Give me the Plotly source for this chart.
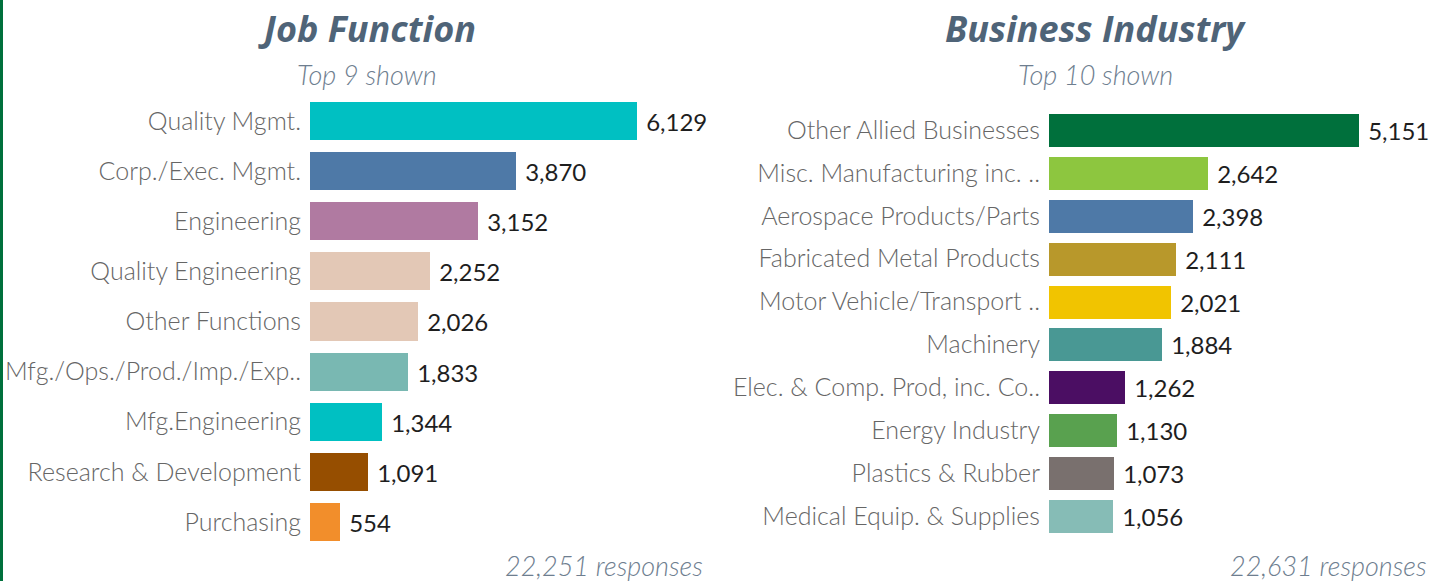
import plotly.graph_objects as go

W, H = 1431, 581

job_labels = ["Quality Mgmt.", "Corp./Exec. Mgmt.", "Engineering", "Quality Engineering",
              "Other Functions", "Mfg./Ops./Prod./Imp./Exp..", "Mfg.Engineering",
              "Research & Development", "Purchasing"]
job_values = [6129, 3870, 3152, 2252, 2026, 1833, 1344, 1091, 554]
job_colors = ["#00C0C2", "#4E79A7", "#B07AA1", "#E3C8B6", "#E3C8B6", "#79B8B2",
              "#00C0C2", "#964E00", "#F28E2B"]

ind_labels = ["Other Allied Businesses", "Misc. Manufacturing inc. ..", "Aerospace Products/Parts",
              "Fabricated Metal Products", "Motor Vehicle/Transport ..", "Machinery",
              "Elec. & Comp. Prod, inc. Co..", "Energy Industry", "Plastics & Rubber",
              "Medical Equip. & Supplies"]
ind_values = [5151, 2642, 2398, 2111, 2021, 1884, 1262, 1130, 1073, 1056]
ind_colors = ["#00703C", "#8DC63F", "#4E79A7", "#B8982B", "#F1C400", "#499894",
              "#4B0E63", "#59A14F", "#79706E", "#86BCB6"]

titles = ["Job Function", "Business Industry"]
subtitles = ["Top 9 shown", "Top 10 shown"]
totals = ["22,251 responses", "22,631 responses"]

FONT = "Lato"
TITLE_FONT = "Open Sans"
TITLE_C = "#4F6478"
SUB_C = "#6E7E8F"
LABEL_C = "#666666"
VAL_C = "#1E1E1E"

fig = go.Figure()

fig.add_trace(go.Bar(
    x=job_values, y=job_labels, orientation="h",
    marker=dict(color=job_colors, line=dict(width=0)),
    width=0.76,
    text=[f" {v:,}" for v in job_values], textposition="outside",
    textfont=dict(family=FONT, size=24, color=VAL_C),
    cliponaxis=False, xaxis="x", yaxis="y", hoverinfo="skip"))

fig.add_trace(go.Bar(
    x=ind_values, y=ind_labels, orientation="h",
    marker=dict(color=ind_colors, line=dict(width=0)),
    width=0.77,
    text=[f" {v:,}" for v in ind_values], textposition="outside",
    textfont=dict(family=FONT, size=24, color=VAL_C),
    cliponaxis=False, xaxis="x2", yaxis="y2", hoverinfo="skip"))

# pixel geometry
L0, L1 = 310, 700
R0, R1 = 1049, 1431
scaleL = (637 - 310) / 6129
scaleR = (1359 - 1049) / 5151
yL_top, yL_bot = 96, 547
yR_top, yR_bot = 108.5, 537.5

axis_common = dict(showgrid=False, zeroline=False, showline=False, showticklabels=False,
                   fixedrange=True)

fig.update_layout(
    width=W, height=H,
    margin=dict(l=0, r=0, t=0, b=0),
    paper_bgcolor="white", plot_bgcolor="white",
    showlegend=False,
    bargap=0,
    xaxis=dict(domain=[L0 / W, L1 / W], range=[0, (L1 - L0) / scaleL], anchor="y", **axis_common),
    xaxis2=dict(domain=[R0 / W, R1 / W], range=[0, (R1 - R0) / scaleR], anchor="y2", **axis_common),
    yaxis=dict(domain=[1 - yL_bot / H, 1 - yL_top / H], range=[len(job_labels) - 0.5, -0.5],
               type="category", categoryorder="array", categoryarray=job_labels,
               showgrid=False, zeroline=False, showline=False, ticks="",
               ticklabelstandoff=8, fixedrange=True,
               tickfont=dict(family=FONT, size=25, color=LABEL_C, weight=300), anchor="x"),
    yaxis2=dict(domain=[1 - yR_bot / H, 1 - yR_top / H], range=[len(ind_labels) - 0.5, -0.5],
                type="category", categoryorder="array", categoryarray=ind_labels,
                showgrid=False, zeroline=False, showline=False, ticks="",
                ticklabelstandoff=8, fixedrange=True,
                tickfont=dict(family=FONT, size=25, color=LABEL_C, weight=300), anchor="x2"),
)

# titles
for cx, t, s in [(367, titles[0], subtitles[0]), (1095, titles[1], subtitles[1])]:
    fig.add_annotation(x=cx / W, y=1 - 28 / H, xref="paper", yref="paper", text=t,
                       showarrow=False, xanchor="center", yanchor="middle",
                       font=dict(family=TITLE_FONT, size=36, color=TITLE_C, weight="bold", style="italic"))
    fig.add_annotation(x=cx / W, y=1 - 74 / H, xref="paper", yref="paper", text=s,
                       showarrow=False, xanchor="center", yanchor="middle",
                       font=dict(family=FONT, size=27, color=SUB_C, weight=300, style="italic"))

fig.add_annotation(x=705 / W, y=1 - 565 / H, xref="paper", yref="paper", text=totals[0],
                   showarrow=False, xanchor="right", yanchor="middle",
                   font=dict(family=FONT, size=27, color=SUB_C, weight=300, style="italic"))
fig.add_annotation(x=1228 / W, y=1 - 565 / H, xref="paper", yref="paper", text=totals[1],
                   showarrow=False, xanchor="left", yanchor="middle",
                   font=dict(family=FONT, size=27, color=SUB_C, weight=300, style="italic"))

# left green border
fig.add_shape(type="rect", xref="paper", yref="paper", x0=0, x1=3 / W, y0=0, y1=1,
              fillcolor="#00703C", line=dict(width=0))

fig.write_html("out.html", config={"displayModeBar": False},
               post_script="document.body.style.margin='0';document.body.style.overflow='hidden';")
